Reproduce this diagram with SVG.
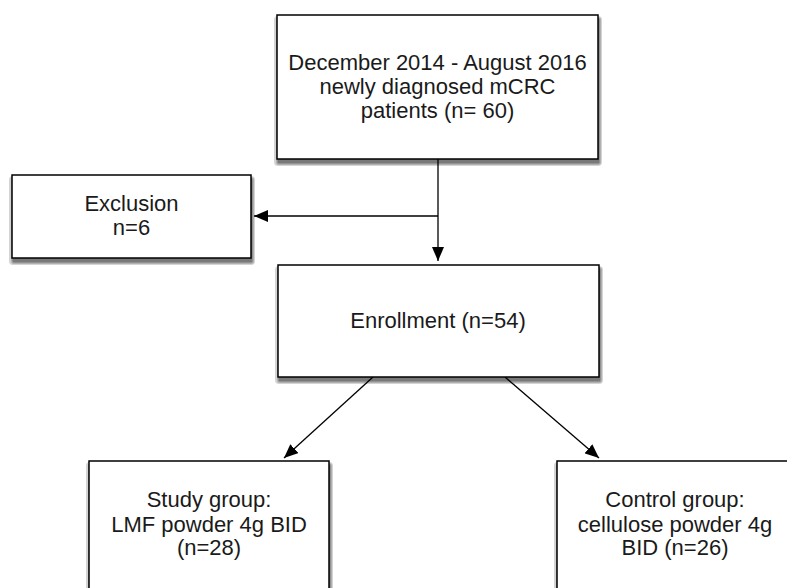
<svg xmlns="http://www.w3.org/2000/svg" width="787" height="588" viewBox="0 0 787 588">
<defs>
<marker id="ah" viewBox="0 0 14 12" refX="14" refY="6" markerWidth="14" markerHeight="12" markerUnits="userSpaceOnUse" orient="auto">
<path d="M0,0 L14,6 L0,12 Z" fill="#000"/>
</marker>
<style>
.box{fill:#fff;stroke:#000;stroke-width:1.5}
.s1{fill:#000;opacity:0.17}
.t{font-family:"Liberation Sans",Arial,sans-serif;font-size:22px;fill:#1a1a1a;text-anchor:middle}
.c{fill:none;stroke:#000;stroke-width:1.3}
</style>
</defs>
<rect width="787" height="588" fill="#fff"/>
<g id="connectors">
<line class="c" x1="438" y1="159" x2="438" y2="261" marker-end="url(#ah)"/>
<line class="c" x1="438" y1="216" x2="254" y2="216" marker-end="url(#ah)"/>
<line class="c" x1="373" y1="377" x2="284" y2="458" marker-end="url(#ah)"/>
<line class="c" x1="505" y1="377" x2="599" y2="458" marker-end="url(#ah)"/>
</g>
<g id="n1">
<rect class="s1" x="274" y="16" width="328" height="150" rx="4"/>
<rect class="s1" x="276" y="17" width="325" height="148" rx="3"/>
<rect class="s1" x="277" y="18" width="323" height="146" rx="2"/>
<rect class="s1" x="278" y="18" width="321" height="145"/>
<rect class="box" x="277" y="15" width="321" height="144"/>
<text class="t" x="437.5" y="70">December 2014 - August 2016</text>
<text class="t" x="437.5" y="94">newly diagnosed mCRC</text>
<text class="t" x="437.5" y="118">patients (n= 60)</text>
</g>
<g id="n2">
<rect class="s1" x="9" y="176" width="246" height="89" rx="4"/>
<rect class="s1" x="11" y="177" width="243" height="87" rx="3"/>
<rect class="s1" x="12" y="178" width="241" height="85" rx="2"/>
<rect class="s1" x="13" y="178" width="239" height="84"/>
<rect class="box" x="12" y="175" width="239" height="83"/>
<text class="t" x="131.5" y="211">Exclusion</text>
<text class="t" x="131.5" y="235">n=6</text>
</g>
<g id="n3">
<rect class="s1" x="275" y="266" width="328" height="118" rx="4"/>
<rect class="s1" x="277" y="267" width="325" height="116" rx="3"/>
<rect class="s1" x="278" y="268" width="323" height="114" rx="2"/>
<rect class="s1" x="279" y="268" width="321" height="113"/>
<rect class="box" x="278" y="265" width="321" height="112"/>
<text class="t" x="438" y="328">Enrollment (n=54)</text>
</g>
<g id="n4">
<rect class="s1" x="86" y="462" width="247" height="146" rx="4"/>
<rect class="s1" x="88" y="463" width="244" height="144" rx="3"/>
<rect class="s1" x="89" y="464" width="242" height="142" rx="2"/>
<rect class="s1" x="90" y="464" width="240" height="141"/>
<rect class="box" x="89" y="461" width="240" height="140"/>
<text class="t" x="209" y="507">Study group:</text>
<text class="t" x="209" y="532">LMF powder 4g BID</text>
<text class="t" x="209" y="555">(n=28)</text>
</g>
<g id="n5">
<rect class="s1" x="554" y="462" width="247" height="146" rx="4"/>
<rect class="s1" x="556" y="463" width="244" height="144" rx="3"/>
<rect class="s1" x="557" y="464" width="242" height="142" rx="2"/>
<rect class="s1" x="558" y="464" width="240" height="141"/>
<rect class="box" x="557" y="461" width="240" height="140"/>
<text class="t" x="675" y="507">Control group:</text>
<text class="t" x="675" y="532">cellulose powder 4g</text>
<text class="t" x="675" y="555">BID (n=26)</text>
</g>
</svg>
